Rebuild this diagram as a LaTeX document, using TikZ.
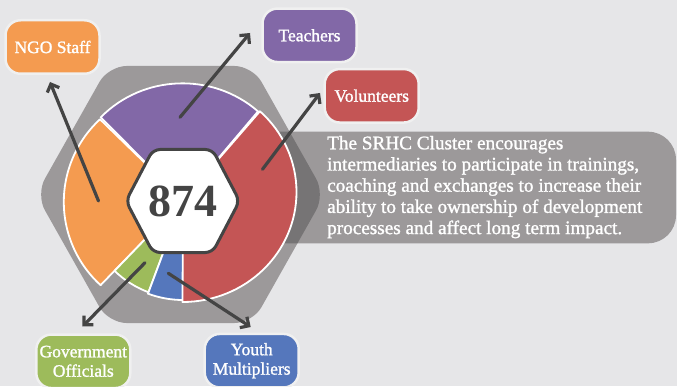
\documentclass[tikz,border=0pt]{standalone}
\usepackage{fontspec}
\setmainfont{Liberation Serif}
\newfontfamily\txtfont[FakeBold=1.3]{Liberation Serif}
\newfontfamily\numfont{Liberation Serif}
\usetikzlibrary{arrows.meta}
\definecolor{bgc}{HTML}{E6E6E8}
\definecolor{hexc}{HTML}{9C999A}
\definecolor{ovl}{HTML}{767475}
\definecolor{orangec}{HTML}{F49B50}
\definecolor{purplec}{HTML}{8268A7}
\definecolor{redc}{HTML}{C45555}
\definecolor{greenc}{HTML}{9DBB5B}
\definecolor{bluec}{HTML}{5577BC}
\definecolor{darkc}{HTML}{444444}
\definecolor{rimc}{HTML}{F0F0F0}
\begin{document}
\begin{tikzpicture}[x=1pt,y=1pt,
  slice/.style={draw=white,line width=1.8pt,line join=round},
  tag/.style={rounded corners=15pt, draw=rimc, line width=2.5pt, text=white,
    font=\txtfont\fontsize{17.5}{19.4}\selectfont, minimum width=94pt,
    minimum height=53.5pt, inner sep=0pt, align=center},
  pointer/.style={draw=darkc, line width=3.2pt, line cap=round,
    -{Straight Barb[length=6.5pt,width=13pt]}}
]
\useasboundingbox (0,0) rectangle (677,386);
\fill[bgc] (0,0) rectangle (677,386);
% banner
\fill[hexc,rounded corners=28pt] (250,142.7) rectangle (676,254.3);
% big hexagon
\fill[hexc,rounded corners=18pt] (36,191.5) -- (108.5,320) -- (252.5,320) -- (325,191.5) -- (252.5,63) -- (108.5,63) -- cycle;
\begin{scope}
\clip[rounded corners=28pt] (250,142.7) rectangle (676,254.3);
\fill[ovl,rounded corners=18pt] (36,191.5) -- (108.5,320) -- (252.5,320) -- (325,191.5) -- (252.5,63) -- (108.5,63) -- cycle;
\end{scope}
% pie
\coordinate (O) at (183,186);
\filldraw[slice,fill=orangec] (O) -- (100,266.7) arc[start angle=132.7,end angle=227.7,radius=112.5] -- cycle;
\filldraw[slice,fill=purplec] (O) -- (258,274.6) arc[start angle=47.9,end angle=136.6,x radius=112.6,y radius=108.7] -- cycle;
\filldraw[slice,fill=greenc] (O) -- ++(226:98.5) arc[start angle=226,end angle=249.5,radius=98.5] -- cycle;
\filldraw[slice,fill=bluec] (O) -- ++(249.5:100) arc[start angle=249.5,end angle=270,radius=100] -- cycle;
\filldraw[slice,fill=redc] (O) -- (182.5,84) arc[start angle=-90,end angle=47.2,x radius=114,y radius=110] -- cycle;
% centre hexagon
\filldraw[fill=white,draw=darkc,line width=3pt,rounded corners=7pt] (126,185) -- (153,236.5) -- (212.5,236.5) -- (239.5,185) -- (212.5,133.5) -- (153,133.5) -- cycle;
\node (total) at (182.7,185) [inner sep=0pt,text=darkc,font=\numfont\bfseries\fontsize{46}{46}\selectfont] {874};
% arrows
\coordinate (ngoS) at (98.5,185);   \coordinate (ngoT) at (50,304);
\coordinate (teaS) at (180,268.7);  \coordinate (teaT) at (250,353);
\coordinate (volS) at (262.5,216.7);\coordinate (volT) at (320,293);
\coordinate (govS) at (145,123.3);  \coordinate (govT) at (82.5,59.5);
\coordinate (youS) at (168.3,112.7);\coordinate (youT) at (250.7,59);
\draw[pointer] (ngoS) -- (ngoT);
\draw[pointer] (teaS) -- (teaT);
\draw[pointer] (volS) -- (volT);
\draw[pointer] (govS) -- (govT);
\draw[pointer] (youS) -- (youT);
% labels
\node[tag,fill=orangec] (ngo) at (52.5,339) {NGO Staff};
\node[tag,fill=purplec] (teach) at (309.5,350.7) {Teachers};
\node[tag,fill=redc] (vol) at (371.7,290.2) {Volunteers};
\node[tag,fill=greenc] (gov) at (83.3,24.7) {Government\\Officials};
\node[tag,fill=bluec] (youth) at (251.7,25.3) {Youth\\Multipliers};
% description
\node (desc) [anchor=base west,inner sep=0pt,text=white,font=\txtfont\fontsize{19.2}{21.2}\selectfont] at (327,236.7)
 {\vtop{\hbox{The SRHC Cluster encourages}\hbox{intermediaries to participate in trainings,}\hbox{coaching and exchanges to increase their}\hbox{ability to take ownership of development}\hbox{processes and affect long term impact.}}};
\end{tikzpicture}
\end{document}
